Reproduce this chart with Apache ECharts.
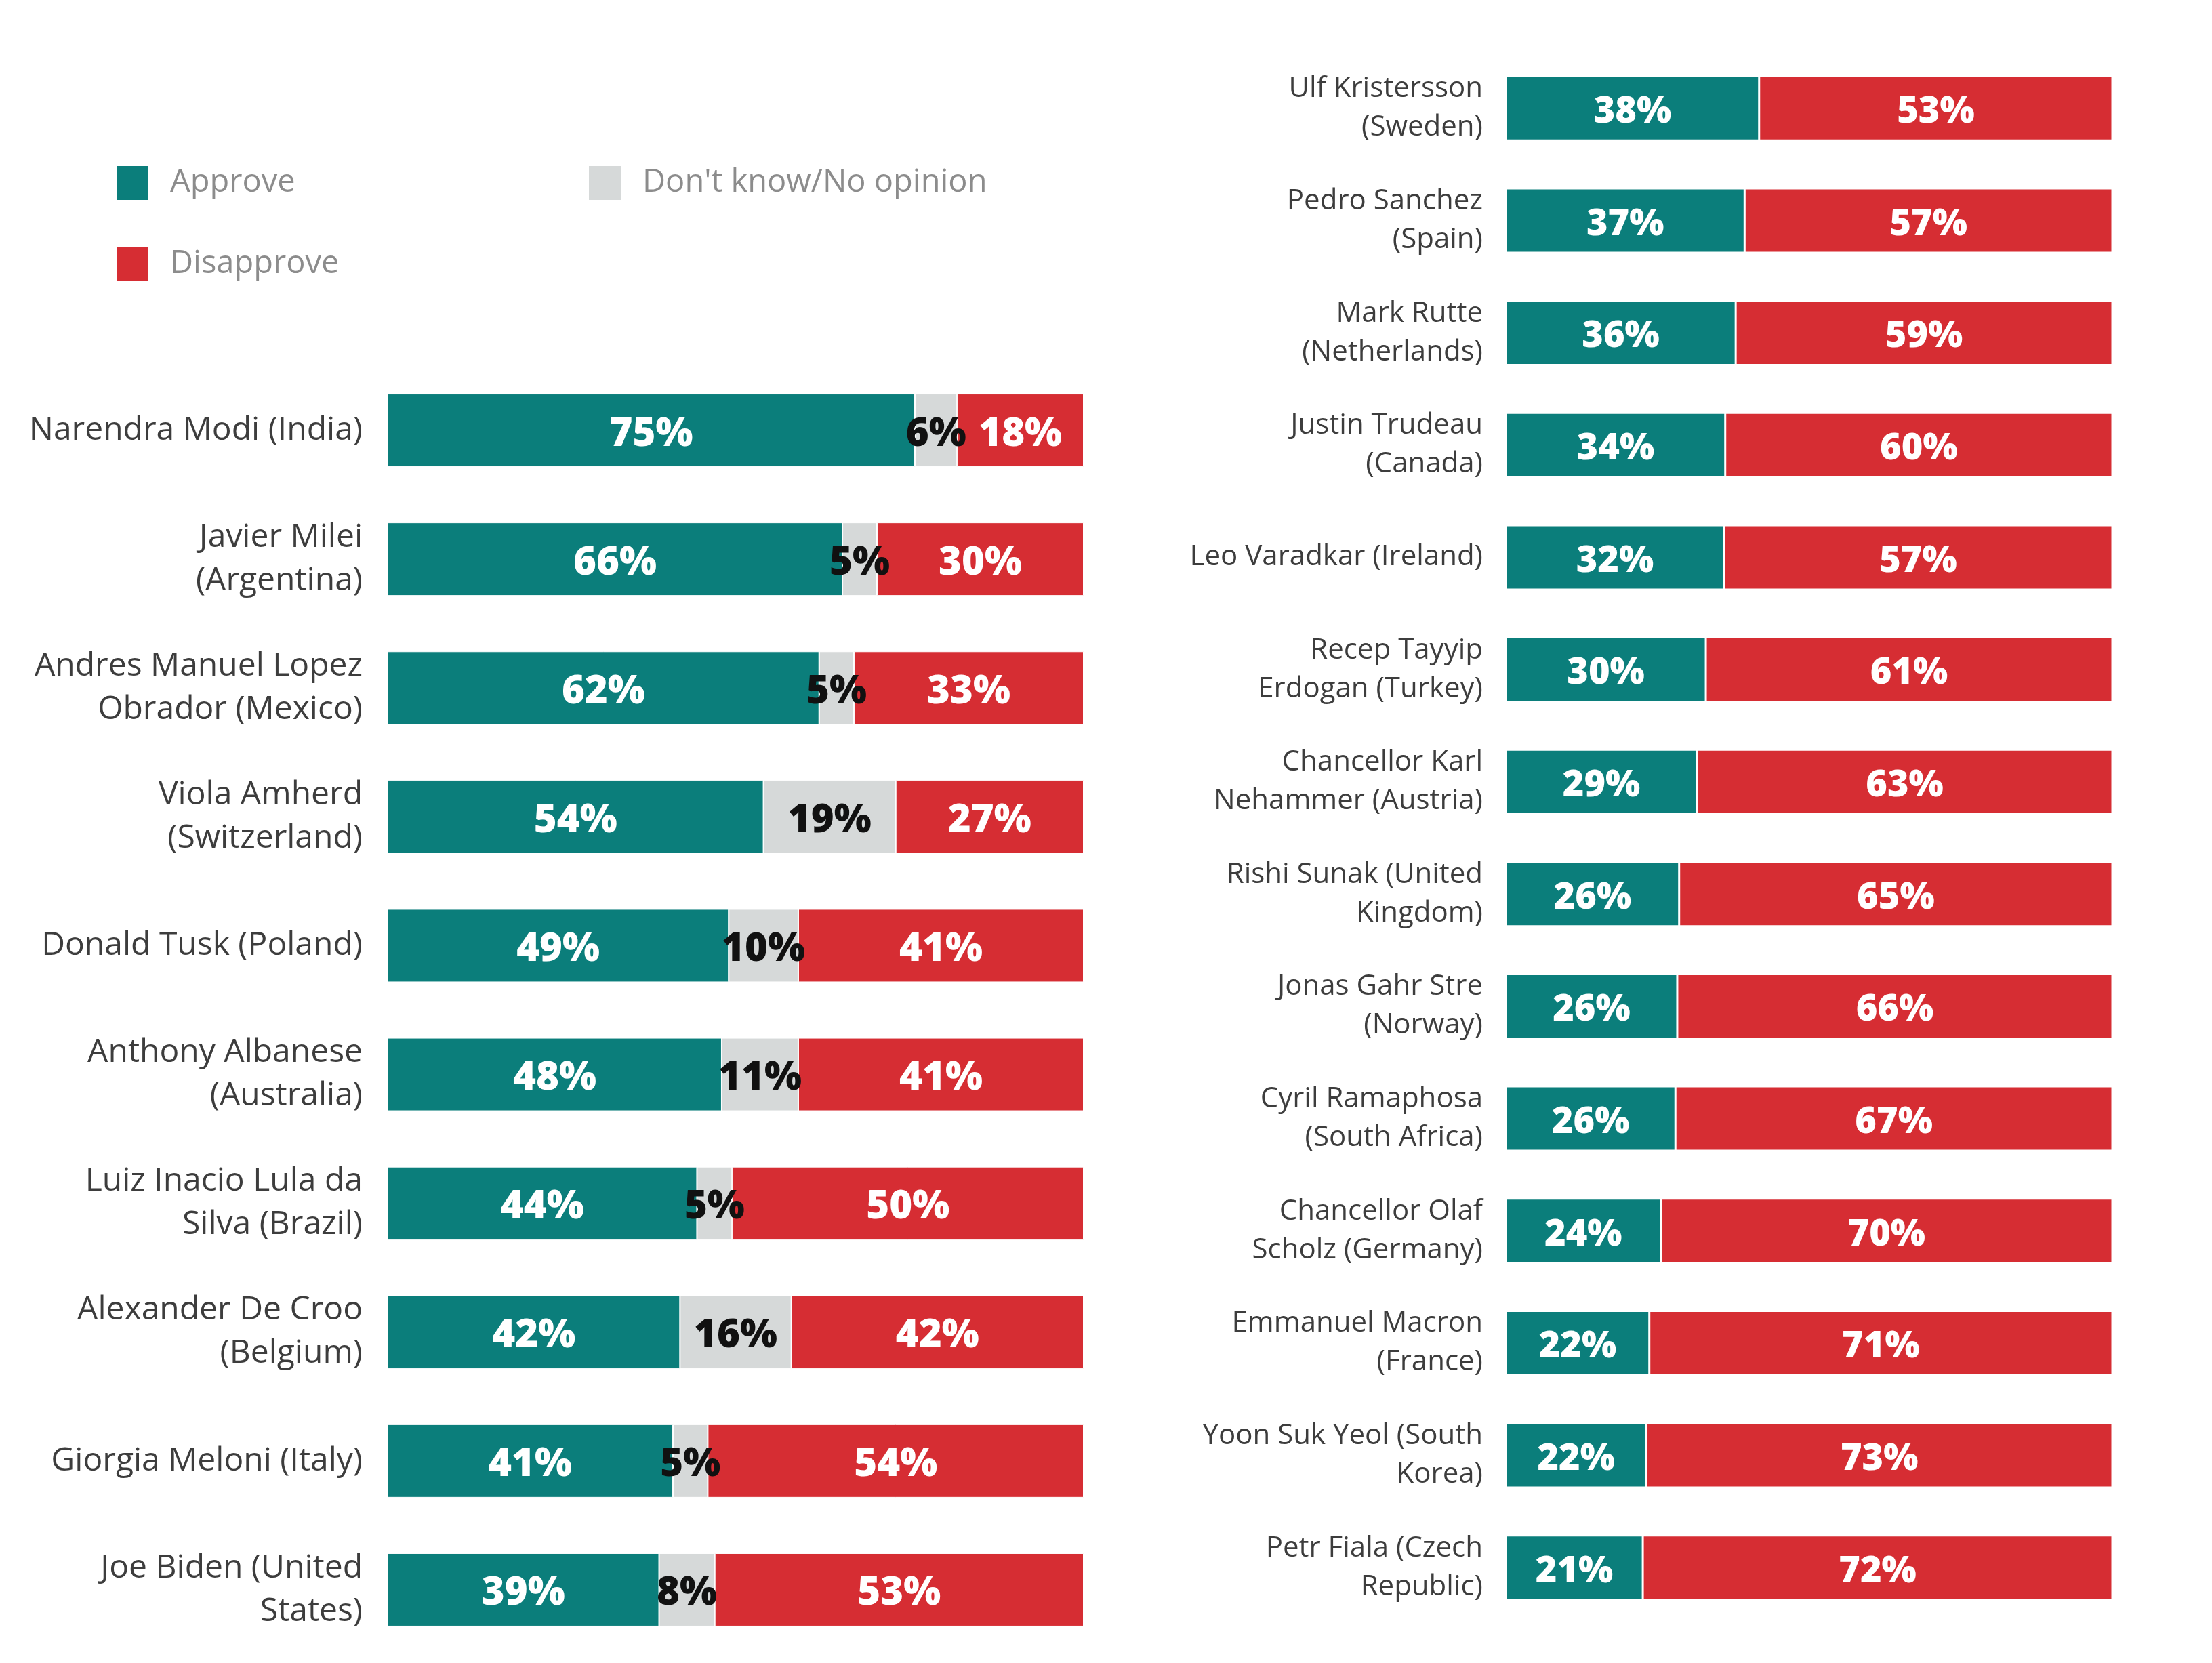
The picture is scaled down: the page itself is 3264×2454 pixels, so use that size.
<!DOCTYPE html>
<html>
<head>
<meta charset="utf-8">
<script src="https://cdn.jsdelivr.net/npm/echarts@6/dist/echarts.min.js"></script>
<style>
  html, body { margin: 0; padding: 0; background: #ffffff; }
  #chart { width: 3264px; height: 2454px; }
</style>
</head>
<body>
<div id="chart"></div>
<script>
const leftNames = [
  "Narendra Modi (India)",
  "Javier Milei\n(Argentina)",
  "Andres Manuel Lopez\nObrador (Mexico)",
  "Viola Amherd\n(Switzerland)",
  "Donald Tusk (Poland)",
  "Anthony Albanese\n(Australia)",
  "Luiz Inacio Lula da\nSilva (Brazil)",
  "Alexander De Croo\n(Belgium)",
  "Giorgia Meloni (Italy)",
  "Joe Biden (United\nStates)"
];
const leftApprove    = [75, 66, 62, 54, 49, 48, 44, 42, 41, 39];
const leftDontKnow   = [6, 5, 5, 19, 10, 11, 5, 16, 5, 8];
const leftDisapprove = [18, 30, 33, 27, 41, 41, 50, 42, 54, 53];

const rightNames = [
  "Ulf Kristersson\n(Sweden)",
  "Pedro Sanchez\n(Spain)",
  "Mark Rutte\n(Netherlands)",
  "Justin Trudeau\n(Canada)",
  "Leo Varadkar (Ireland)",
  "Recep Tayyip\nErdogan (Turkey)",
  "Chancellor Karl\nNehammer (Austria)",
  "Rishi Sunak (United\nKingdom)",
  "Jonas Gahr Stre\n(Norway)",
  "Cyril Ramaphosa\n(South Africa)",
  "Chancellor Olaf\nScholz (Germany)",
  "Emmanuel Macron\n(France)",
  "Yoon Suk Yeol (South\nKorea)",
  "Petr Fiala (Czech\nRepublic)"
];
const rightApprove    = [38, 37, 36, 34, 32, 30, 29, 26, 26, 26, 24, 22, 22, 21];
const rightDisapprove = [53, 57, 59, 60, 57, 61, 63, 65, 66, 67, 70, 71, 73, 72];

const TEAL = '#0b7e7b', RED = '#d62d33', GRAY = '#d6d9d9';

const leftTotal = leftApprove.map((v, i) => v + leftDontKnow[i] + leftDisapprove[i]);
const rightTotal = rightApprove.map((v, i) => v + rightDisapprove[i]);
const share = (arr, tot) => arr.map((v, i) => v / tot[i] * 100);

function valLabel(raw, color, size) {
  return {
    show: true, position: 'inside', color: color, offset: [0, 6],
    fontFamily: 'Open Sans', fontWeight: 800, fontSize: size,
    formatter: p => raw[p.dataIndex] + '%'
  };
}

const catLabel = (size, lh, margin) => ({
  fontFamily: 'Open Sans', fontSize: size, lineHeight: lh, color: '#3d3d3d',
  align: 'right', margin: margin, padding: [16, 0, 0, 0]
});

const legendText = { fontFamily: 'Open Sans', fontSize: 47, color: '#8c8c8c', padding: [12, 0, 0, 26] };

const option = {
  animation: false,
  backgroundColor: '#ffffff',
  legend: [
    {
      data: ['Approve', 'Disapprove'], orient: 'vertical', left: 170, top: 243, padding: 0,
      itemWidth: 49, itemHeight: 52, itemGap: 66, icon: 'rect', selectedMode: false,
      textStyle: legendText
    },
    {
      data: ["Don't know/No opinion"], orient: 'vertical', left: 867, top: 243, padding: 0,
      itemWidth: 49, itemHeight: 52, icon: 'rect', selectedMode: false,
      textStyle: legendText
    }
  ],
  grid: [
    { left: 572, width: 1027, top: 540, height: 1901, containLabel: false },
    { left: 2222, width: 895, top: 77, height: 2319, containLabel: false }
  ],
  xAxis: [
    { gridIndex: 0, type: 'value', min: 0, max: 100, show: false },
    { gridIndex: 1, type: 'value', min: 0, max: 100, show: false }
  ],
  yAxis: [
    { gridIndex: 0, type: 'category', data: leftNames, inverse: true,
      axisLine: { show: false }, axisTick: { show: false }, splitLine: { show: false },
      axisLabel: catLabel(48, 64, 37) },
    { gridIndex: 1, type: 'category', data: rightNames, inverse: true,
      axisLine: { show: false }, axisTick: { show: false }, splitLine: { show: false },
      axisLabel: catLabel(42, 57, 34) }
  ],
  series: [
    { name: 'Approve', type: 'bar', stack: 'L', xAxisIndex: 0, yAxisIndex: 0, barWidth: 108,
      itemStyle: { color: TEAL, borderColor: '#fff', borderWidth: 1 },
      label: valLabel(leftApprove, '#ffffff', 58), data: share(leftApprove, leftTotal) },
    { name: "Don't know/No opinion", type: 'bar', stack: 'L', xAxisIndex: 0, yAxisIndex: 0, barWidth: 108,
      itemStyle: { color: GRAY, borderColor: '#fff', borderWidth: 1 },
      label: valLabel(leftDontKnow, '#111111', 58), data: share(leftDontKnow, leftTotal) },
    { name: 'Disapprove', type: 'bar', stack: 'L', xAxisIndex: 0, yAxisIndex: 0, barWidth: 108,
      itemStyle: { color: RED, borderColor: '#fff', borderWidth: 1 },
      label: valLabel(leftDisapprove, '#ffffff', 58), data: share(leftDisapprove, leftTotal) },
    { name: 'Approve', type: 'bar', stack: 'R', xAxisIndex: 1, yAxisIndex: 1, barWidth: 95,
      itemStyle: { color: TEAL, borderColor: '#fff', borderWidth: 1.5 },
      label: valLabel(rightApprove, '#ffffff', 54), data: share(rightApprove, rightTotal) },
    { name: 'Disapprove', type: 'bar', stack: 'R', xAxisIndex: 1, yAxisIndex: 1, barWidth: 95,
      itemStyle: { color: RED, borderColor: '#fff', borderWidth: 1.5 },
      label: valLabel(rightDisapprove, '#ffffff', 54), data: share(rightDisapprove, rightTotal) }
  ]
};

const chart = echarts.init(document.getElementById('chart'), null, { renderer: 'canvas' });
chart.setOption(option);
</script>
</body>
</html>
